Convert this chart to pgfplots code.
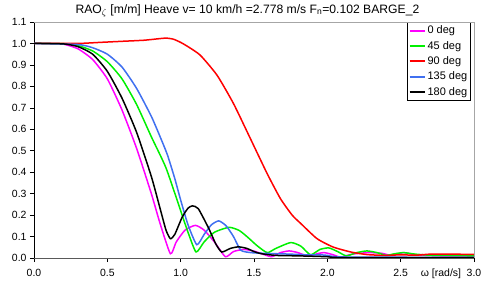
\documentclass[border=0pt]{standalone}
\usepackage{pgfplots}
\pgfplotsset{compat=1.18}
\usepackage{fontspec}
\setmainfont{Liberation Sans}
\definecolor{cmag}{RGB}{255,0,255}
\definecolor{cgreen}{RGB}{0,240,0}
\definecolor{cred}{RGB}{255,0,0}
\definecolor{cblue}{RGB}{64,112,240}
\begin{document}
\begin{tikzpicture}
\path[use as bounding box] (-34bp,-28bp) rectangle (447bp,258bp);
\begin{axis}[
  at={(0,0)}, anchor=south west,
  scale only axis, width=440bp, height=236bp,
  xmin=0, xmax=3, ymin=0, ymax=1.1,
  xtick={0,0.5,...,3.0}, ytick={0,0.1,...,1.1},
  /pgf/number format/assume math mode=true,
  /pgf/number format/fixed, /pgf/number format/fixed zerofill, /pgf/number format/precision=1,
  ticklabel style={font=\fontsize{10.5}{12}\selectfont},
  xticklabel style={yshift=-4bp},
  tick style={black, line width=0.6bp},
  major tick length=4bp,
  tick align=outside,
  xtick pos=bottom, ytick pos=left,
  separate axis lines,
  x axis line style={draw=black!65, line width=0.8bp},
  y axis line style={draw=black, line width=0.8bp},
  title={RAO\textsubscript{$\zeta$} [m/m] Heave v= 10 km/h =2.778 m/s F\textsubscript{n}=0.102 BARGE\_2},
  title style={font=\fontsize{12.2}{13}\selectfont, at={(0.485,1)}, anchor=base, yshift=3bp},
  xlabel={ω [rad/s]},
  xlabel style={font=\fontsize{10.5}{12}\selectfont, at={(0.925,0)}, anchor=north, yshift=-7bp},
  legend style={at={(1,1)}, anchor=north east, xshift=-3bp, draw=black, line width=0.6bp, fill=white,
    font=\fontsize{11}{13}\selectfont, inner sep=1.5bp, row sep=2bp},
  legend cell align=left,
  legend image code/.code={\draw[#1, line width=2bp, sharp plot] (0bp,0bp) -- (15bp,0bp);},
  every axis plot/.append style={line width=1.5bp, smooth, tension=0.35},
]
\addplot[cmag] coordinates {
(0,1.0) (0.1,1.0) (0.2,0.997) (0.3,0.975) (0.4,0.925) (0.5,0.835) (0.6,0.69) (0.7,0.51)
(0.8,0.3) (0.86,0.16) (0.93,0.02) (0.97,0.075) (1.03,0.13) (1.1,0.152)
(1.16,0.13) (1.23,0.075) (1.305,0.006) (1.36,0.03) (1.43,0.04) (1.5,0.032) (1.56,0.018)
(1.62,0.006) (1.68,0.025) (1.74,0.033) (1.8,0.025) (1.87,0.008) (1.93,0.02) (1.98,0.025)
(2.04,0.015) (2.09,0.004) (2.17,0.018) (2.28,0.025) (2.37,0.022) (2.44,0.012) (2.52,0.025)
(2.6,0.015) (2.7,0.012) (2.8,0.01) (3.0,0.01)};
\addlegendentry{0 deg}
\addplot[cgreen] coordinates {
(0,1.0) (0.2,0.999) (0.3,0.99) (0.4,0.965) (0.5,0.915) (0.6,0.835) (0.7,0.715) (0.8,0.565)
(0.9,0.42) (1.0,0.22) (1.05,0.12) (1.105,0.028) (1.16,0.075) (1.23,0.12) (1.33,0.143)
(1.4,0.128) (1.46,0.095) (1.52,0.058) (1.59,0.025) (1.65,0.045) (1.75,0.072) (1.82,0.055)
(1.885,0.015) (1.95,0.04) (2.01,0.047) (2.07,0.03) (2.13,0.01) (2.2,0.025) (2.27,0.033)
(2.34,0.025) (2.4,0.012) (2.46,0.02) (2.52,0.025) (2.6,0.018) (2.7,0.013) (2.8,0.012) (3.0,0.01)};
\addlegendentry{45 deg}
\addplot[cred] coordinates {
(0,1.0) (0.3,1.0) (0.45,1.005) (0.6,1.01) (0.75,1.015) (0.85,1.022) (0.9,1.025) (0.95,1.02)
(1.0,1.005) (1.05,0.985) (1.134,0.945) (1.248,0.852) (1.36,0.72) (1.475,0.557)
(1.59,0.393) (1.68,0.277) (1.76,0.2) (1.82,0.16) (1.93,0.09) (2.04,0.051) (2.16,0.028) (2.27,0.016)
(2.4,0.012) (2.5,0.015) (2.6,0.013) (2.7,0.018) (2.8,0.018) (3.0,0.017)};
\addlegendentry{90 deg}
\addplot[cblue] coordinates {
(0,1.0) (0.3,0.995) (0.4,0.98) (0.5,0.95) (0.6,0.89) (0.7,0.79) (0.8,0.66)
(0.86,0.565) (0.91,0.48) (0.96,0.37) (1.0,0.27) (1.05,0.155) (1.11,0.062) (1.16,0.11) (1.21,0.155)
(1.26,0.173) (1.31,0.15) (1.36,0.1) (1.41,0.036) (1.48,0.025) (1.56,0.022) (1.65,0.02)
(1.75,0.018) (1.85,0.015) (1.95,0.015) (2.0,0.012) (2.05,0.006) (2.2,0.004) (3.0,0.003)};
\addlegendentry{135 deg}
\addplot[black] coordinates {
(0,1.0) (0.2,0.998) (0.3,0.985) (0.4,0.95) (0.5,0.87) (0.6,0.745) (0.7,0.585)
(0.8,0.38) (0.86,0.23) (0.9,0.13) (0.93,0.09) (0.96,0.11) (1.01,0.19)
(1.05,0.232) (1.08,0.243) (1.12,0.23) (1.19,0.14) (1.24,0.065) (1.28,0.028) (1.34,0.045)
(1.395,0.052) (1.45,0.045) (1.5,0.03) (1.55,0.02) (1.65,0.012) (1.8,0.01) (2.0,0.006)
(2.1,0.002) (3.0,0.002)};
\addlegendentry{180 deg}
\end{axis}
\draw[black!35, line width=0.8bp] (0,236bp) -- (440bp,236bp) -- (440bp,0);
\end{tikzpicture}
\end{document}
